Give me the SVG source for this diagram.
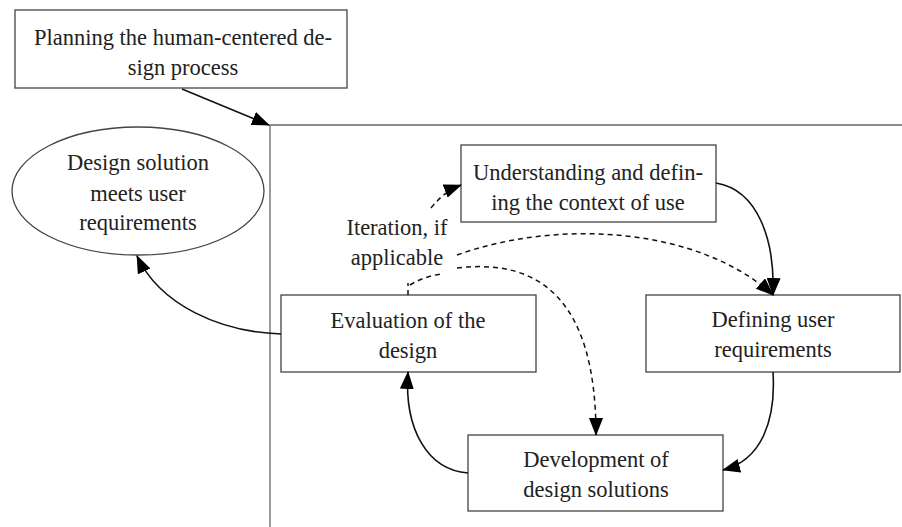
<svg xmlns="http://www.w3.org/2000/svg" width="902" height="527" viewBox="0 0 902 527">
<style>
.box{fill:#fff;stroke:#444;stroke-width:1.3}
.frame{fill:none;stroke:#666;stroke-width:1.3}
.t{font-family:"Liberation Serif","Times New Roman",serif;font-size:22.5px;fill:#222;text-anchor:middle}
.c{fill:none;stroke:#111;stroke-width:1.6}
.d{fill:none;stroke:#111;stroke-width:1.5;stroke-dasharray:5 4}
</style>
<defs>
<marker id="ah" markerUnits="userSpaceOnUse" markerWidth="18" markerHeight="14" refX="17" refY="7" orient="auto">
<path d="M0,0 L18,7 L0,14 Z" fill="#000"/>
</marker>
</defs>
<rect width="902" height="527" fill="#fff"/>
<path class="frame" d="M270,527 L270,125 L902,125"/>
<g id="planning">
<rect class="box" x="15" y="10" width="332" height="78"/>
<text class="t" x="183" y="45">Planning the human-centered de-</text>
<text class="t" x="183" y="75">sign process</text>
</g>
<g id="solution">
<ellipse class="box" cx="138" cy="191" rx="126" ry="64"/>
<text class="t" x="138" y="170">Design solution</text>
<text class="t" x="138" y="201">meets user</text>
<text class="t" x="138" y="230">requirements</text>
</g>
<g id="understanding">
<rect class="box" x="461" y="145" width="255" height="77"/>
<text class="t" x="588" y="180">Understanding and defin-</text>
<text class="t" x="588" y="210">ing the context of use</text>
</g>
<g id="evaluation">
<rect class="box" x="281" y="295" width="255" height="77"/>
<text class="t" x="408" y="328">Evaluation of the</text>
<text class="t" x="408" y="358">design</text>
</g>
<g id="defining">
<rect class="box" x="646" y="295" width="254" height="77"/>
<text class="t" x="773" y="327">Defining user</text>
<text class="t" x="773" y="357">requirements</text>
</g>
<g id="development">
<rect class="box" x="468" y="435" width="255" height="76"/>
<text class="t" x="596" y="467">Development of</text>
<text class="t" x="596" y="497">design solutions</text>
</g>
<g id="label">
<text class="t" x="397" y="235">Iteration, if</text>
<text class="t" x="397" y="265">applicable</text>
</g>
<g id="connectors">
<path class="c" d="M182,89 L269,125" marker-end="url(#ah)"/>
<path class="c" d="M716,183 C758,190 775,240 773,295" marker-end="url(#ah)"/>
<path class="c" d="M773,372 C776,420 762,460 723,470" marker-end="url(#ah)"/>
<path class="c" d="M468,473 C428,470 404,430 408,372" marker-end="url(#ah)"/>
<path class="c" d="M281,334 C220,332 160,305 137,256" marker-end="url(#ah)"/>
<path class="d" d="M431,208 C440,197 448,190 461,185" marker-end="url(#ah)"/>
<path class="d" d="M457,255 C560,218 700,228 773,295" marker-end="url(#ah)"/>
<path class="d" d="M457,268 C540,258 596,300 596,435" marker-end="url(#ah)"/>
<path class="d" d="M408,295 L408,283"/>
<path class="d" d="M410,285 C418,280 428,276 441,274"/>
</g>
</svg>
